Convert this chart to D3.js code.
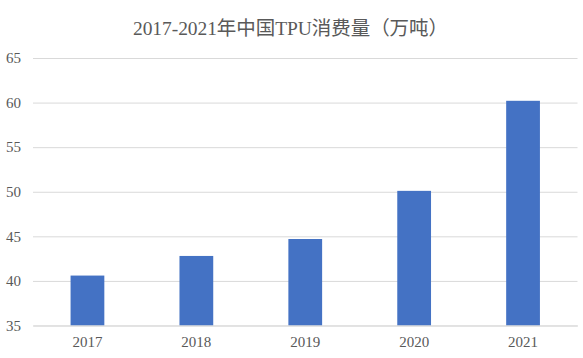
<!DOCTYPE html>
<html><head><meta charset="utf-8">
<script src="https://cdn.jsdelivr.net/npm/d3@7"></script>
<style>body{margin:0;background:#fff}svg{display:block}</style>
</head><body>
<svg id="c" width="583" height="358"></svg>
<script>
const categories = ["2017","2018","2019","2020","2021"];
const values = [40.6, 42.8, 44.7, 50.1, 60.2];
const yTicks = [35,40,45,50,55,60,65];
const title = "2017-2021年中国TPU消费量（万吨）";

const svg = d3.select("#c");
const W = 583, H = 358;
const m = {left:33, right:5.5, top:58, bottom:32.5};
const font = "'Liberation Serif','DejaVu Serif','Noto Sans CJK SC',serif";

const x = d3.scaleBand().domain(categories).range([m.left, W - m.right])
  .paddingInner(0.69).paddingOuter(0.345);
const y = d3.scaleLinear().domain([35,65]).range([H - m.bottom, m.top]);

svg.append("text").attr("x", 290.5).attr("y", 34.5).attr("text-anchor","middle")
  .attr("font-family", font).attr("font-size", 19.5).attr("fill","#595959")
  .attr("textLength", 315).attr("lengthAdjust","spacing").text(title);

const yAxis = svg.append("g").attr("transform", `translate(${m.left},0)`)
  .call(d3.axisLeft(y).tickValues(yTicks).tickSize(-(W - m.left - m.right)).tickPadding(12));
yAxis.select(".domain").remove();
yAxis.selectAll(".tick line").attr("stroke","#d9d9d9").attr("stroke-width",1);
yAxis.selectAll(".tick text").attr("fill","#595959").attr("font-size",15).attr("font-family",font);

svg.selectAll("rect.bar").data(values).enter().append("rect").attr("class","bar")
  .attr("x", (d,i) => x(categories[i])).attr("width", x.bandwidth())
  .attr("y", d => y(d)).attr("height", d => y(35) - y(d)).attr("fill","#4472c4");

const xAxis = svg.append("g").attr("transform", `translate(0,${H - m.bottom})`)
  .call(d3.axisBottom(x).tickSize(0).tickPadding(11));
xAxis.select(".domain").attr("stroke","#d9d9d9");
xAxis.selectAll(".tick text").attr("fill","#595959").attr("font-size",15).attr("font-family",font);
</script>
</body></html>
